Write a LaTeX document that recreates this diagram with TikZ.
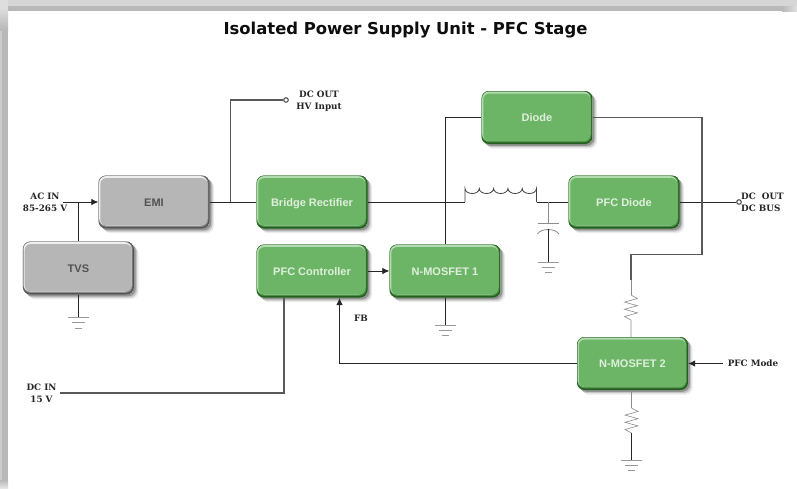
\documentclass[tikz,border=0pt]{standalone}
\usepackage{fontspec}
\setmainfont{DejaVu Sans}
\newfontfamily\labelfont{DejaVu Serif}
\newfontfamily\boxfont{Liberation Sans}
\usetikzlibrary{arrows.meta,calc}
\definecolor{gboxfill}{HTML}{6DB566}
\definecolor{gboxedge}{HTML}{245E20}
\definecolor{gboxsoft}{HTML}{4A8E45}
\definecolor{gboxlight}{HTML}{B4DAAF}
\definecolor{sboxfill}{HTML}{B6B6B6}
\definecolor{sboxedge}{HTML}{555555}
\definecolor{sboxsoft}{HTML}{8A8A8A}
\definecolor{sboxlight}{HTML}{EFEFEF}
\newcommand{\bevel}[4]{%
  \fill[#1] (path picture bounding box.south west) rectangle (path picture bounding box.north east);
  \fill[#4,rounded corners=7pt] ($(path picture bounding box.north west)+(.4,.4)$) rectangle ($(path picture bounding box.south east)+(-1.2,-1.6)$);
  \fill[#2,rounded corners=7pt] ($(path picture bounding box.north west)+(.6,.6)$) rectangle ($(path picture bounding box.south east)+(-2.2,-3)$);
  \fill[#3,rounded corners=6pt] ($(path picture bounding box.north west)+(1.8,2.6)$) rectangle ($(path picture bounding box.south east)+(-2.2,-3.1)$);}
\tikzset{
  x=1pt,y=-1pt,
  shadowed/.style={preaction={fill=black,opacity=.08,transform canvas={xshift=4.6pt,yshift=-4.6pt},path picture={}},
                   preaction={fill=black,opacity=.16,transform canvas={xshift=3.2pt,yshift=-3.2pt},path picture={}},
                   preaction={fill=black,opacity=.25,transform canvas={xshift=1.8pt,yshift=-1.8pt},path picture={}}},
  boxbase/.style={shadowed,rounded corners=7.5pt,minimum width=111pt,minimum height=53pt,inner sep=0pt,
    text height=8pt,text depth=0pt,
    font=\boxfont\fontsize{11}{13}\selectfont\bfseries},
  greenbox/.style={boxbase,fill=gboxfill,text=white!78!gboxfill,path picture={\bevel{gboxedge}{gboxlight}{gboxfill}{gboxsoft}}},
  silverbox/.style={boxbase,fill=sboxfill,text=black!68,path picture={\bevel{sboxedge}{sboxlight}{sboxfill}{sboxsoft}}},
  wire/.style={draw=black!85,line width=.8pt},
  greywire/.style={draw=black!65,line width=1.1pt},
  thinwire/.style={draw=black!45,line width=.6pt},
  arrowwire/.style={wire,-{Latex[length=7pt,width=6.5pt]}},
  term/.style={font=\labelfont\fontsize{8.8}{11.6}\selectfont\bfseries,align=center,inner sep=0pt,text=black!85},
  port/.style={circle,draw=black!80,fill=white,line width=.9pt,minimum size=4.6pt,inner sep=0pt},
}
\newcommand{\groundat}[1]{%
  \draw[draw=black!40,line width=.8pt] ($(#1)+(-10.5,0)$) -- ($(#1)+(10.5,0)$);
  \draw[draw=black!40,line width=.8pt] ($(#1)+(-6.5,5.3)$) -- ($(#1)+(6.5,5.3)$);
  \draw[draw=black!40,line width=.8pt] ($(#1)+(-3.5,10.6)$) -- ($(#1)+(3.5,10.6)$);}
\newcommand{\resistorat}[2]{%
  \draw[thinwire] (#1) -- ++(6.5,3.5) -- ++(-13,3.6) -- ++(13,3.6) -- ++(-13,3.6) -- ++(13,3.6) -- ++(-13,3.6) -- ++(6.5,3.5) -- (#2);}
\begin{document}
\begin{tikzpicture}
\useasboundingbox (0,0) rectangle (797,488);
% frame
\fill[white] (0,0) rectangle (797,488);
\fill[black!16] (0,0) rectangle (797,6);
\fill[black!28] (8,6) rectangle (797,11);
\fill[black!28] (2,0) rectangle (8,488);
\fill[black!20] (0,0) rectangle (2,488);
\fill[black!13] (0,0) rectangle (8,8);
\shade[top color=black!13,bottom color=black!28] (0,8) rectangle (8,30);
\shade[top color=black!28,bottom color=black!10] (0,480) rectangle (8,488);
\shade[left color=black!28,right color=black!12] (782,6) rectangle (797,11);
\node[font=\bfseries\fontsize{16.4}{19}\selectfont,text=black!95,inner sep=0pt] (title) at (405.5,30) {Isolated Power Supply Unit - PFC Stage};
% boxes
\node[silverbox] (emi) at (154,202) {EMI};
\node[silverbox] (tvs) at (78.4,268) {TVS};
\node[greenbox] (bridge) at (312,202) {Bridge Rectifier};
\node[greenbox] (ctrl) at (312,271) {PFC Controller};
\node[greenbox] (m1) at (445,271) {N-MOSFET 1};
\node[greenbox] (diode) at (537,117.5) {Diode};
\node[greenbox] (pfcd) at (624,202) {PFC Diode};
\node[greenbox] (m2) at (632.5,363.5) {N-MOSFET 2};
% terminals
\node[term] (acin) at (45,202) {AC IN\\85-265 V};
\node[term] (hv) at (319,101) {DC OUT\\HV Input};
\node[term,anchor=west,align=left] (dcbus) at (741,202) {DC\,\, OUT\\DC BUS};
\node[term] (dcin) at (41.5,393.5) {DC IN\\15 V};
\node[term] (fb) at (361,318) {FB};
\node[term] (mode) at (753,363.5) {PFC Mode};
\node[port] (hvp) at (286,100) {};
\node[port] (busp) at (739,202) {};
% coordinates
\coordinate (acs) at (63,202);
\coordinate (tap) at (230.7,202);
\coordinate (acj) at (78.4,202);
\coordinate (g1) at (78.4,317.5);
\coordinate (g2) at (445,325);
\coordinate (g3) at (548,262);
\coordinate (g4) at (631.5,460);
\coordinate (ls) at (465,202);
\coordinate (le) at (536.5,202);
\coordinate (cj) at (548,202);
\coordinate (cplate) at (548,223.3);
\coordinate (cbot) at (548,229);
\coordinate (r1t) at (631,280);
\coordinate (r1z) at (631,295);
\coordinate (r1b) at (631,337);
\coordinate (r2z) at (631.5,408);
\coordinate (r2b) at (631.5,433);
\coordinate (modes) at (723,363.5);
\coordinate (fbt) at (339.5,298);
\coordinate (fbc) at (339.5,363.5);
\coordinate (dct) at (284,298);
\coordinate (dcc) at (284,393);
\coordinate (dcs) at (60,393);
\coordinate (rt) at (702,254.7);
% connectors
\draw[arrowwire] (acs) -- (emi.west);
\draw[wire] (acj) -- (acj |- tvs.north);
\draw[wire] (tvs.south) -- (g1);
\groundat{g1}
\draw[wire] (emi.east) -- (bridge.west);
\draw[greywire] (tap) -- (tap |- hvp) -- (hvp);
\draw[wire] (bridge.east) -- (ls);
\draw[wire] (m1.north) -- (m1.north |- diode.west) -- (diode.west);
\draw[wire] (m1.south) -- (g2);
\groundat{g2}
\draw[arrowwire] (ctrl.east) -- (m1.west);
\draw[draw=black!75,line width=.8pt] (ls) -- (465,188.5)
  arc (180:0:7.15 and 5) arc (180:0:7.15 and 5) arc (180:0:7.15 and 5) arc (180:0:7.15 and 5) arc (180:0:7.15 and 5) -- (le);
\draw[wire] (le) -- (pfcd.west);
\draw[thinwire] (cj) -- (cplate);
\draw[thinwire,line width=.8pt] (537.5,223.3) -- (559,223.3);
\draw[thinwire,line width=.8pt] (537.5,234) .. controls (541,228) and (555,228) .. (559,234);
\draw[wire] (cbot) -- (g3);
\groundat{g3}
\draw[wire] (pfcd.east) -- (busp);
\draw[greywire] (diode.east) -- (rt |- diode.east) -- (rt) -- (r1t |- rt) -- (r1t);
\draw[thinwire] (r1t) -- (r1z);
\resistorat{r1z}{r1b}
\draw[greywire] (dct) -- (dcc) -- (dcs);
\draw[arrowwire] (m2.west) -- (fbc) -- (fbt);
\draw[arrowwire] (modes) -- (m2.east);
\draw[thinwire] (r2z |- m2.south) -- (r2z);
\resistorat{r2z}{r2b}
\draw[wire] (r2b) -- (g4);
\groundat{g4}
\end{tikzpicture}
\end{document}
